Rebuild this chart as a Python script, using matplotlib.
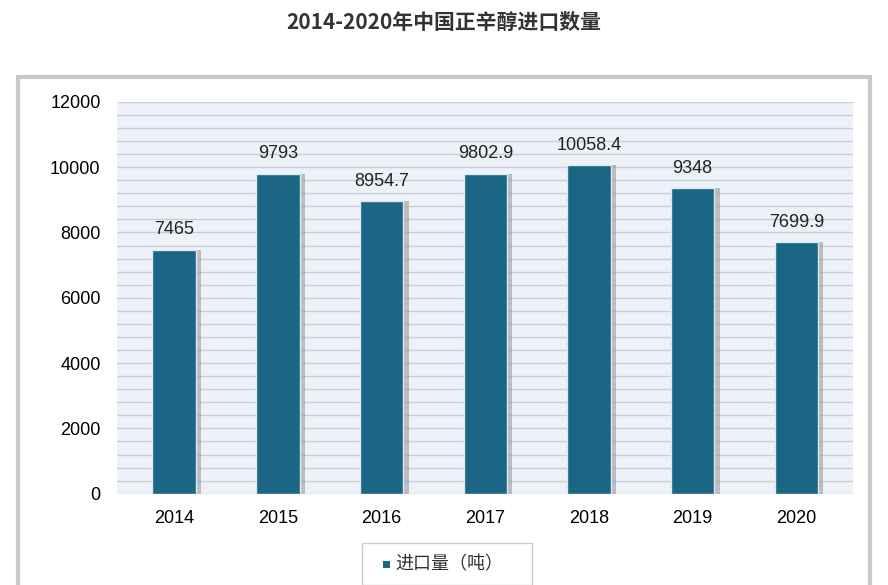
import matplotlib
matplotlib.use("Agg")
import matplotlib.pyplot as plt
from matplotlib.patches import Rectangle
import numpy as np

plt.rcParams['font.family'] = ['Noto Sans CJK SC', 'DejaVu Sans']

years = ["2014", "2015", "2016", "2017", "2018", "2019", "2020"]
values = [7465, 9793, 8954.7, 9802.9, 10058.4, 9348, 7699.9]
labels = ["7465", "9793", "8954.7", "9802.9", "10058.4", "9348", "7699.9"]

fig = plt.figure(figsize=(8.88, 5.85), dpi=100)
fig.patch.set_facecolor("white")
fig.patches.append(Rectangle((18/888, -0.05), 852/888, 1.05 - 77/585, transform=fig.transFigure,
                             facecolor="white", edgecolor="#c8c8c8", linewidth=3, zorder=-5))
fig.text(0.5, 0.962, "2014-2020年中国正辛醇进口数量", ha="center", va="center",
         fontsize=15, fontweight="bold", color="#333333")

ax = fig.add_axes([0.132, 0.156, 0.829, 0.670])
ax.set_zorder(1)
ax.set_facecolor("#eef2f8")
ax.set_ylim(0, 12000)
ax.set_xlim(-0.55, 6.55)
for y in np.arange(0, 12001, 400):
    ax.axhline(y, color="#c9ced8", linewidth=1.0, zorder=1)
x = np.arange(len(years))
ax.bar(x + 0.04, values, width=0.44, color="#9a9a9a", alpha=0.6, zorder=2)
ax.bar(x, values, width=0.42, color="#1b6585", edgecolor="#dbe9f2", linewidth=1, zorder=3)
for xi, v, l in zip(x, values, labels):
    ax.text(xi, v + 350, l, ha="center", va="bottom", fontsize=13, color="#222222",
            family=['Liberation Sans', 'DejaVu Sans'])
ax.set_xticks(x)
ax.set_xticklabels(years, fontsize=13, family=['Liberation Sans'])
ax.set_yticks(np.arange(0, 12001, 2000))
ax.set_yticklabels([str(v) for v in range(0, 12001, 2000)], fontsize=13, family=['Liberation Sans'])
ax.tick_params(length=0, pad=12)
for s in ax.spines.values():
    s.set_visible(False)

fig.patches.append(Rectangle((362/888, 0.0), 170/888, 42/585, transform=fig.transFigure,
                             facecolor="white", edgecolor="#cccccc", linewidth=1, zorder=2))
fig.patches.append(Rectangle((383/888, 1 - 568/585), 7/888, 7/585, transform=fig.transFigure,
                             facecolor="#1b6585", zorder=3))
fig.text(395/888, 1 - 564/585, "进口量（吨）", fontsize=13, va="center", color="#333333", zorder=4)

fig.savefig("out.png", dpi=100)
